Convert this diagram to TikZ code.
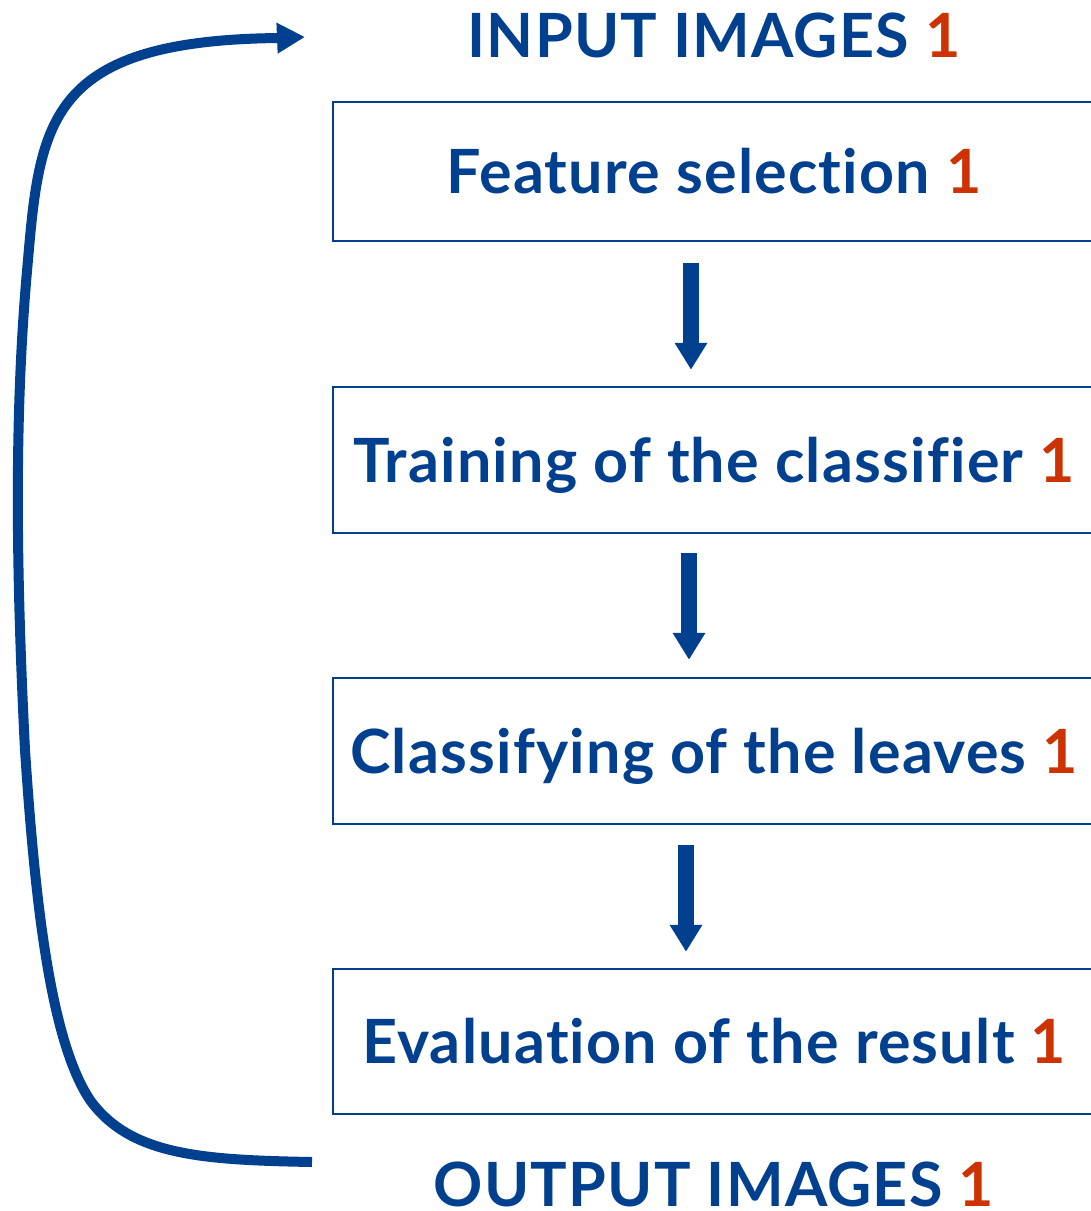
\documentclass[tikz,border=0pt]{standalone}
\usepackage{fontspec}
\setmainfont{Lato}[Ligatures={NoCommon},LetterSpace=2]
\usetikzlibrary{arrows.meta}
\definecolor{dblue}{RGB}{0,64,143}
\definecolor{rnum}{RGB}{204,51,0}
\tikzset{
  stepbox/.style={draw=dblue,line width=2.5pt,minimum width=762pt,inner sep=0pt,
    text height=44pt,text depth=0pt,
    font=\fontsize{61}{61}\selectfont\bfseries,text=dblue},
  lbl/.style={font=\fontsize{61}{61}\selectfont\bfseries,text=dblue,inner sep=0pt,
    text height=44pt,text depth=0pt},
  downarrow/.style={draw=dblue,line width=16pt,-{Triangle[length=27pt,width=31pt]}},
  backline/.style={draw=dblue,line width=10pt,-{Triangle[length=28pt,width=29pt]}}
}
\newcommand{\rn}{\textcolor{rnum}{1}}
\begin{document}
\begin{tikzpicture}[x=1pt,y=-1pt]
\useasboundingbox (0,0) rectangle (1091,1211);
\node[lbl] (inp) at (714,35) {INPUT IMAGES \rn};
\node[stepbox,minimum height=139pt] (b1) at (714,171.5) {Feature selection \rn};
\node[stepbox,minimum height=146pt] (b2) at (714,460) {Training of the classifier \rn};
\node[stepbox,minimum height=146pt] (b3) at (714,751) {Classifying of the leaves \rn};
\node[stepbox,minimum height=145pt] (b4) at (714,1041.5) {Evaluation of the result \rn};
\node[lbl] (outp) at (714,1184) {OUTPUT IMAGES \rn};
\draw[downarrow] ([xshift=-23pt,yshift=-21pt]b1.south) -- ([xshift=-23pt,yshift=16pt]b2.north);
\draw[downarrow] ([xshift=-25pt,yshift=-19pt]b2.south) -- ([xshift=-25pt,yshift=17pt]b3.north);
\draw[downarrow] ([xshift=-28pt,yshift=-20pt]b3.south) -- ([xshift=-28pt,yshift=16pt]b4.north);
\coordinate (ls) at (312,1162);
\coordinate (le) at (305,37);
\draw[backline] (ls) .. controls (200,1160) and (130,1155) .. (90,1100)
  .. controls (50,1040) and (35,900) .. (25,750)
  .. controls (15,550) and (15,400) .. (28,260)
  .. controls (40,120) and (50,40) .. (280,38) -- (le);
\end{tikzpicture}
\end{document}
